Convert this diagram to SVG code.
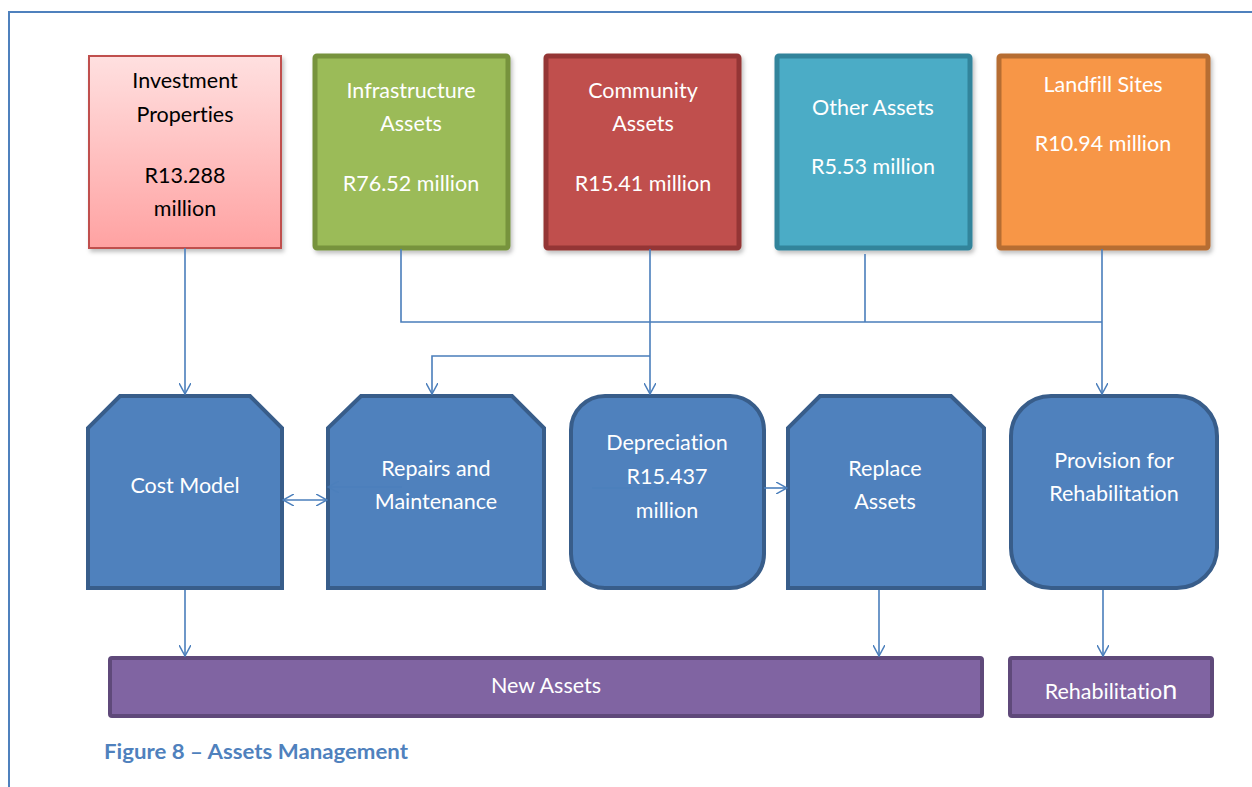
<svg xmlns="http://www.w3.org/2000/svg" width="1252" height="787" viewBox="0 0 1252 787">
<defs>
<linearGradient id="pinkGrad" x1="0" y1="0" x2="0" y2="1">
<stop offset="0" stop-color="#ffe0e0"/>
<stop offset="1" stop-color="#ffa2a2"/>
</linearGradient>
<filter id="shadow" x="-10%" y="-10%" width="130%" height="130%">
<feDropShadow dx="2" dy="3" stdDeviation="2" flood-color="#000" flood-opacity="0.25"/>
</filter>
<marker id="arr" markerWidth="12" markerHeight="12" refX="11" refY="6" orient="auto" markerUnits="userSpaceOnUse" viewBox="0 0 12 12">
<path d="M0,0 L11,6 L0,12" fill="none" stroke="#4a7ebb" stroke-width="1.5"/>
</marker>
<marker id="arrS" markerWidth="12" markerHeight="12" refX="1" refY="6" orient="auto" markerUnits="userSpaceOnUse" viewBox="0 0 12 12">
<path d="M12,0 L1,6 L12,12" fill="none" stroke="#4a7ebb" stroke-width="1.5"/>
</marker>
</defs>
<style>
.t{font-family:Lato,"Open Sans","Liberation Sans",sans-serif;font-size:21.5px;fill:#ffffff;text-anchor:middle;font-variant-ligatures:none}
.dark{fill:#000000}
.top{stroke-width:5}
.blue{fill:#4f81bd;stroke:#385d8a;stroke-width:4}
.purple{fill:#8064a2;stroke:#5f497a;stroke-width:4}
.con{fill:none;stroke:#4a7ebb;stroke-width:1.6}
.cap{font-family:Lato,"Open Sans","Liberation Sans",sans-serif;font-size:21.5px;font-weight:bold;fill:#4f81bd;font-variant-ligatures:none}
</style>
<rect width="1252" height="787" fill="#ffffff"/>
<path d="M9,787 L9,12 L1252,12" fill="none" stroke="#4f81bd" stroke-width="2"/>

<g id="investment">
<rect x="89" y="56" width="192" height="192" fill="url(#pinkGrad)" stroke="#c0504d" stroke-width="2" filter="url(#shadow)"/>
<text class="t dark" x="185" y="88">Investment</text>
<text class="t dark" x="185" y="122">Properties</text>
<text class="t dark" x="185" y="183">R13.288</text>
<text class="t dark" x="185" y="216">million</text>
</g>
<g id="infrastructure">
<rect x="315" y="56" width="193" height="192" fill="#9bbb59" stroke="#77933c" class="top" rx="2" filter="url(#shadow)"/>
<text class="t" x="411" y="98">Infrastructure</text>
<text class="t" x="411" y="131">Assets</text>
<text class="t" x="411" y="191">R76.52 million</text>
</g>
<g id="community">
<rect x="546" y="56" width="193" height="192" fill="#c0504d" stroke="#943634" class="top" rx="2" filter="url(#shadow)"/>
<text class="t" x="643" y="98">Community</text>
<text class="t" x="643" y="131">Assets</text>
<text class="t" x="643" y="191">R15.41 million</text>
</g>
<g id="other">
<rect x="777" y="56" width="193" height="192" fill="#4bacc6" stroke="#31849b" class="top" rx="2" filter="url(#shadow)"/>
<text class="t" x="873" y="115">Other Assets</text>
<text class="t" x="873" y="174">R5.53 million</text>
</g>
<g id="landfill">
<rect x="999" y="56" width="209" height="192" fill="#f79646" stroke="#b66d31" class="top" rx="2" filter="url(#shadow)"/>
<text class="t" x="1103" y="92">Landfill Sites</text>
<text class="t" x="1103" y="151">R10.94 million</text>
</g>

<g id="costmodel">
<path class="blue" d="M120,396 L250,396 L282,428 L282,588 L88,588 L88,428 Z"/>
<text class="t" x="185" y="493">Cost Model</text>
</g>
<g id="repairs">
<path class="blue" d="M361,396 L512,396 L544,428 L544,588 L328,588 L328,428 Z"/>
<text class="t" x="436" y="476">Repairs and</text>
<text class="t" x="436" y="509">Maintenance</text>
</g>
<g id="depreciation">
<rect class="blue" x="571" y="396" width="193" height="192" rx="34"/>
<text class="t" x="667" y="450">Depreciation</text>
<text class="t" x="667" y="484">R15.437</text>
<text class="t" x="667" y="518">million</text>
</g>
<g id="replace">
<path class="blue" d="M820,396 L951,396 L984,428 L984,588 L788,588 L788,428 Z"/>
<text class="t" x="885" y="476">Replace</text>
<text class="t" x="885" y="509">Assets</text>
</g>
<g id="provision">
<rect class="blue" x="1011" y="396" width="206" height="192" rx="40"/>
<text class="t" x="1114" y="468">Provision for</text>
<text class="t" x="1114" y="501">Rehabilitation</text>
</g>

<g id="newassets">
<rect class="purple" x="110" y="658" width="872" height="58" rx="2"/>
<text class="t" x="546" y="693">New Assets</text>
</g>
<g id="rehabilitation">
<rect class="purple" x="1010" y="658" width="202" height="58" rx="2"/>
<text class="t" x="1111" y="699">Rehabilitatio<tspan font-size="27">n</tspan></text>
</g>

<g id="connectors">
<path class="con" d="M185,248 L185,394" marker-end="url(#arr)"/>
<path class="con" d="M401,249 L401,322 L1102,322"/>
<path class="con" d="M650,249 L650,394" marker-end="url(#arr)"/>
<path class="con" d="M865,254 L865,322"/>
<path class="con" d="M1102,249 L1102,394" marker-end="url(#arr)"/>
<path class="con" d="M650,356 L432,356 L432,394" marker-end="url(#arr)"/>
<path class="con" d="M283,500 L327,500" marker-start="url(#arrS)" marker-end="url(#arr)"/>
<path class="con" d="M402,487 L328,487" marker-end="url(#arr)" opacity="0.6"/>
<path class="con" d="M592,488 L666,488" opacity="0.6"/>
<path class="con" d="M764,488 L787,488" marker-end="url(#arr)"/>
<path class="con" d="M185,590 L185,656" marker-end="url(#arr)"/>
<path class="con" d="M879,590 L879,656" marker-end="url(#arr)"/>
<path class="con" d="M1103,590 L1103,656" marker-end="url(#arr)"/>
</g>

<text class="cap" x="104" y="759" textLength="304" lengthAdjust="spacingAndGlyphs">Figure 8 – Assets Management</text>
</svg>
